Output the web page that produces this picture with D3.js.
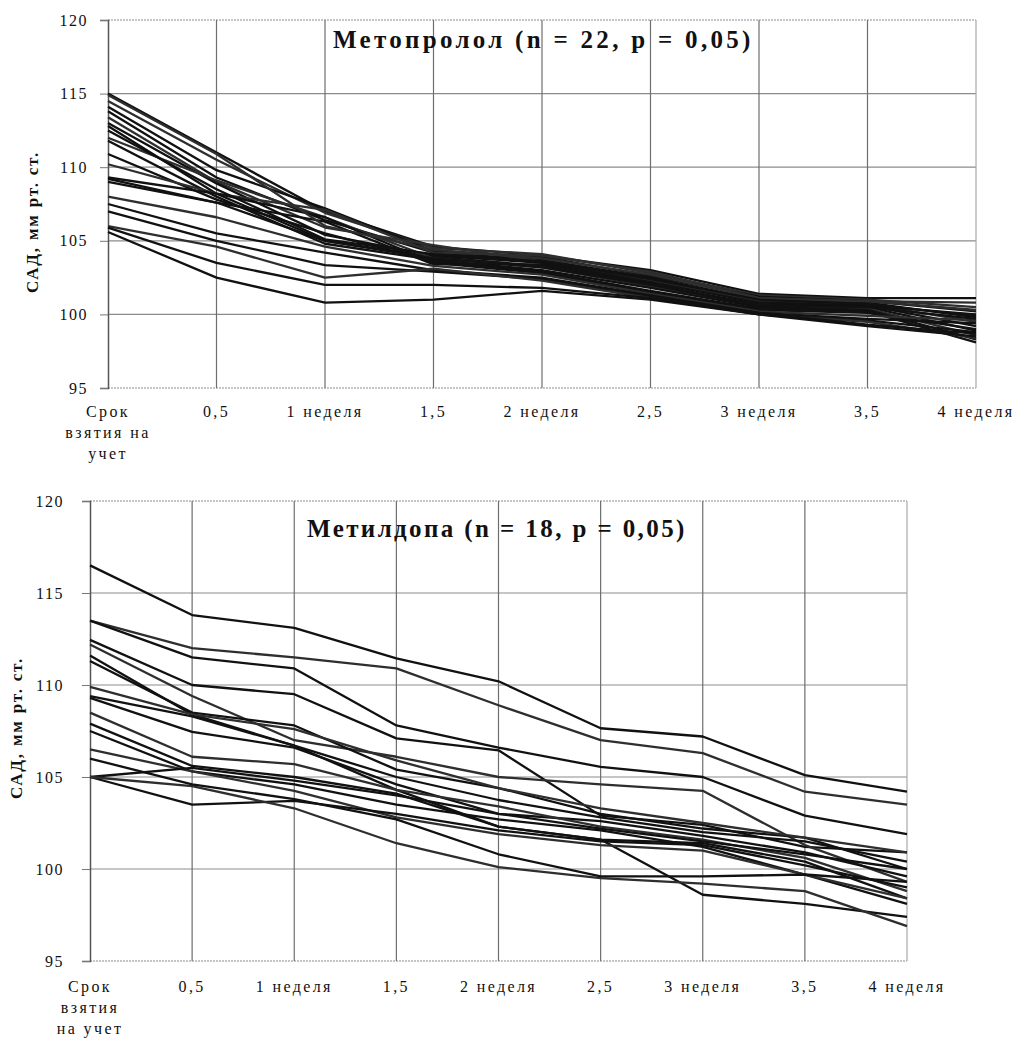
<!DOCTYPE html>
<html>
<head>
<meta charset="utf-8">
<script src="https://cdn.jsdelivr.net/npm/d3@7"></script>
<style>
body { margin: 0; background: #fff; }
text { font-family: "Liberation Serif", "Times New Roman", "DejaVu Serif", serif; fill: #111; }
</style>
</head>
<body>
<div id="main_div"></div>
<script>
// categories (first one is split onto three lines)
var cats_1 = [["Срок", "взятия на", "учет"], ["0,5"], ["1 неделя"], ["1,5"], ["2 неделя"], ["2,5"], ["3 неделя"], ["3,5"], ["4 неделя"]];
var cats_2 = [["Срок", "взятия", "на учет"], ["0,5"], ["1 неделя"], ["1,5"], ["2 неделя"], ["2,5"], ["3 неделя"], ["3,5"], ["4 неделя"]];
var y_ticks = [95, 100, 105, 110, 115, 120];

// Метопролол, 22 patients
var metoprolol = [
    [115.0, 111.0, 107.0, 104.6, 104.0, 103.0, 101.4, 101.1, 101.1],
    [114.5, 110.5, 106.9, 104.5, 104.1, 102.8, 101.3, 101.0, 100.5],
    [114.1, 109.8, 107.2, 104.3, 103.9, 102.6, 101.2, 100.9, 100.2],
    [113.8, 109.3, 106.4, 104.2, 103.7, 102.5, 101.0, 100.8, 99.8],
    [113.4, 109.0, 105.9, 104.7, 103.6, 102.3, 100.9, 100.7, 99.5],
    [113.0, 108.9, 105.4, 104.0, 103.5, 102.2, 100.8, 100.6, 99.2],
    [112.8, 108.2, 105.0, 103.9, 103.3, 102.0, 100.7, 100.5, 98.9],
    [112.0, 109.1, 106.6, 103.8, 103.2, 101.9, 100.6, 100.4, 98.6],
    [111.8, 108.0, 104.8, 103.7, 103.0, 101.8, 100.5, 100.3, 98.3],
    [110.9, 107.8, 105.5, 103.6, 102.9, 101.6, 100.4, 100.2, 98.1],
    [110.2, 108.2, 107.1, 104.2, 104.0, 102.9, 101.1, 100.9, 100.8],
    [109.3, 108.2, 106.6, 103.5, 102.8, 101.5, 100.3, 100.1, 99.0],
    [109.0, 107.6, 106.3, 103.4, 103.4, 102.1, 100.6, 100.6, 100.0],
    [108.0, 106.6, 104.6, 103.3, 102.7, 101.4, 100.2, 99.9, 99.6],
    [107.5, 105.5, 104.2, 103.0, 102.5, 101.3, 100.1, 99.7, 99.4],
    [107.0, 105.0, 103.35, 102.9, 102.4, 101.2, 100.0, 99.6, 98.8],
    [106.0, 104.6, 102.5, 103.1, 102.3, 101.1, 100.0, 99.5, 98.4],
    [105.6, 102.5, 100.8, 101.0, 101.6, 101.0, 100.0, 99.2, 98.5],
    [105.9, 103.5, 102.0, 102.0, 101.8, 101.1, 100.1, 99.3, 98.7],
    [114.9, 110.9, 106.0, 104.4, 103.8, 102.7, 101.1, 100.9, 100.3],
    [112.5, 108.5, 105.1, 104.1, 103.6, 102.4, 101.0, 100.7, 99.9],
    [109.2, 107.6, 105.0, 103.8, 103.2, 102.0, 100.6, 100.5, 99.7]
];

// Метилдопа, 18 patients
var methyldopa = [
    [116.5, 113.8, 113.1, 111.45, 110.2, 107.65, 107.2, 105.1, 104.2],
    [113.5, 112.0, 111.5, 110.9, 108.9, 107.0, 106.3, 104.2, 103.5],
    [113.5, 111.5, 110.9, 107.8, 106.6, 105.55, 105.0, 102.9, 101.9],
    [112.45, 110.0, 109.5, 107.1, 106.45, 102.9, 102.4, 101.2, 100.9],
    [112.2, 109.4, 107.0, 106.1, 105.0, 104.6, 104.25, 101.3, 99.3],
    [111.6, 108.4, 106.7, 104.3, 102.3, 101.6, 98.6, 98.1, 97.4],
    [111.3, 108.5, 107.8, 105.4, 104.4, 103.0, 102.2, 101.7, 100.0],
    [109.9, 108.4, 107.6, 105.9, 104.4, 103.3, 102.5, 101.7, 100.9],
    [109.4, 108.3, 106.7, 105.0, 103.75, 102.8, 102.0, 101.5, 100.4],
    [109.3, 107.45, 106.6, 104.6, 103.0, 102.6, 101.8, 100.9, 99.6],
    [108.5, 106.1, 105.7, 104.3, 103.4, 102.3, 101.6, 100.6, 98.8],
    [107.9, 105.6, 105.0, 104.1, 102.3, 101.6, 101.4, 100.4, 98.4],
    [107.5, 105.3, 104.6, 103.5, 102.7, 102.1, 101.2, 99.7, 98.1],
    [106.5, 105.3, 104.25, 102.8, 101.9, 101.3, 101.0, 99.7, 98.4],
    [105.0, 103.5, 103.7, 103.0, 102.1, 101.5, 101.3, 100.2, 99.0],
    [105.0, 105.5, 104.8, 104.0, 103.0, 102.2, 101.5, 100.8, 100.0],
    [105.0, 104.5, 103.3, 101.4, 100.1, 99.5, 99.2, 98.8, 96.9],
    [106.0, 104.6, 103.8, 102.7, 100.8, 99.6, 99.6, 99.7, 99.3]
];

var serif = "'Liberation Serif', 'Times New Roman', serif";
var svg = d3.select("#main_div").append("svg").attr("width", 1019).attr("height", 1049);

function draw_chart(cats, series, title, o) {
    var x_scale = d3.scalePoint().domain(d3.range(cats.length)).range([o.x0, o.x1]);
    var y_scale = d3.scaleLinear().domain([95, 120]).range([o.y0, o.y1]);
    var g = svg.append("g").attr("font-family", serif);

    // grid
    g.append("g").selectAll("line").data(y_ticks).enter().append("line")
        .attr("x1", o.x0).attr("x2", o.x1)
        .attr("y1", function(d) { return y_scale(d); })
        .attr("y2", function(d) { return y_scale(d); })
        .attr("stroke", "#8c8c8c").attr("stroke-width", 1.2)
        .attr("stroke-dasharray", function(d) { return d == 95 || d == 120 ? "2,1" : null; });
    g.append("g").selectAll("line").data(d3.range(1, cats.length)).enter().append("line")
        .attr("x1", function(d) { return x_scale(d); })
        .attr("x2", function(d) { return x_scale(d); })
        .attr("y1", o.y1).attr("y2", o.y0)
        .attr("stroke", function(d) { return d == cats.length - 1 ? "#aaa" : "#6e6e6e"; })
        .attr("stroke-width", 1.2);

    // y axis
    var ay = g.append("g").attr("transform", "translate(" + o.x0 + ",0)")
        .call(d3.axisLeft(y_scale).tickValues(y_ticks).tickSize(8).tickPadding(o.pad));
    ay.attr("font-family", serif);
    ay.select(".domain").attr("stroke", "#555").attr("stroke-width", 1.5);
    ay.selectAll(".tick line").attr("stroke", "#777");
    ay.selectAll("text").style("font-family", serif).style("font-size", "16px")
        .style("letter-spacing", "1.5px").attr("fill", "#222");

    // lines
    var line = d3.line()
        .x(function(d, i) { return x_scale(i); })
        .y(function(d) { return y_scale(d); });
    g.append("g").selectAll("path").data(series).enter().append("path")
        .attr("d", line)
        .attr("fill", "none")
        .attr("stroke", function(d, i) { return i % 3 == 1 ? "#2e2e2e" : "#111"; })
        .attr("stroke-width", 2.3)
        .attr("stroke-linejoin", "round");

    // x labels
    var xl = g.append("g").selectAll("text").data(cats).enter().append("text")
        .attr("text-anchor", "middle")
        .attr("x", function(d, i) { return x_scale(i); })
        .attr("y", o.lab_y)
        .style("font-family", serif)
        .style("font-size", "16px").style("letter-spacing", "2.4px");
    xl.selectAll("tspan").data(function(d) { return d; }).enter().append("tspan")
        .attr("x", function() { return d3.select(this.parentNode).attr("x"); })
        .attr("dy", function(d, i) { return i == 0 ? 0 : 21; })
        .text(function(d) { return d; });

    // y title
    g.append("text")
        .attr("transform", "translate(" + o.yt_x + "," + o.yt_y + ") rotate(-90)")
        .attr("text-anchor", "middle")
        .style("font-family", serif)
        .style("font-size", "17px").style("font-weight", "bold").style("letter-spacing", "1.8px")
        .text("САД, мм рт. ст.");

    // chart title
    g.append("text")
        .attr("x", o.t_x).attr("y", o.t_y)
        .style("font-family", serif)
        .style("font-size", o.t_fs).style("font-weight", "bold").style("letter-spacing", o.t_ls)
        .text(title);
}

draw_chart(cats_1, metoprolol, "Метопролол (n = 22, p = 0,05)",
    {x0: 108, x1: 976, y0: 388, y1: 20, pad: 12, lab_y: 417, yt_x: 38, yt_y: 222, t_x: 333, t_y: 48, t_fs: "25px", t_ls: "3.3px"});
draw_chart(cats_2, methyldopa, "Метилдопа (n = 18, p = 0,05)",
    {x0: 90, x1: 907, y0: 961, y1: 501, pad: 18, lab_y: 992, yt_x: 22, yt_y: 728, t_x: 307, t_y: 537, t_fs: "25px", t_ls: "2.4px"});
</script>
</body>
</html>
